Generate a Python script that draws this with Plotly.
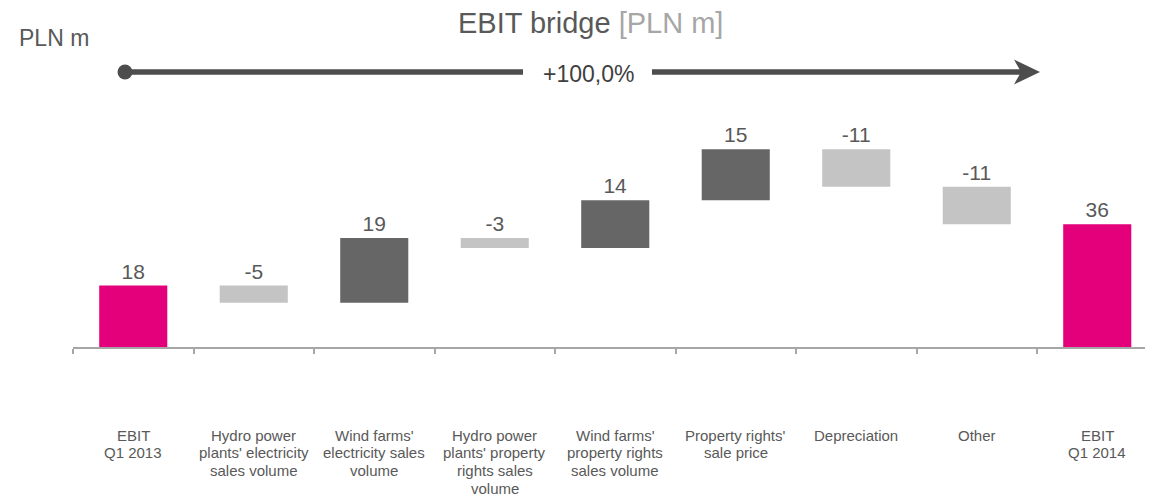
import plotly.graph_objects as go

# =========================
# DATA
# =========================
categories = [
    "EBIT<br>Q1 2013",
    "Hydro power<br>plants' electricity<br>sales volume",
    "Wind farms'<br>electricity sales<br>volume",
    "Hydro power<br>plants' property<br>rights sales<br>volume",
    "Wind farms'<br>property rights<br>sales volume",
    "Property rights'<br>sale price",
    "Depreciation",
    "Other",
    "EBIT<br>Q1 2014",
]
values = [18, -5, 19, -3, 14, 15, -11, -11, 36]
kinds = ["total", "delta", "delta", "delta", "delta", "delta", "delta", "delta", "total"]
change_label = "+100,0%"

# =========================
# WATERFALL GEOMETRY
# =========================
bases, heights, colors = [], [], []
running = 0
for v, k in zip(values, kinds):
    if k == "total":
        bases.append(0)
        heights.append(v)
        colors.append("#E3007A")
        running = v
    else:
        end = running + v
        bases.append(min(running, end))
        heights.append(abs(v))
        colors.append("#666666" if v > 0 else "#C4C4C4")
        running = end

W, H = 1153, 500
OFF = 8            # page body margin
L = 73 - OFF
PW = W - L


def px(x):
    return (x - OFF - L) / PW


def py(y):
    return 1 - (y - OFF) / H


TXT = "#595959"
ARROW = "#4D4D4D"

fig = go.Figure(
    go.Bar(
        x=list(range(len(values))),
        y=heights,
        base=bases,
        width=0.565,
        marker=dict(color=colors, line=dict(width=0)),
        text=[str(v) for v in values],
        textposition="outside",
        textfont=dict(size=21, color=TXT),
        cliponaxis=False,
        hoverinfo="skip",
    )
)

# category labels, one annotation per line
for i, cat in enumerate(categories):
    for j, line in enumerate(cat.split("<br>")):
        fig.add_annotation(
            x=i, xref="x", y=py(435 + 17.7 * j), yref="paper",
            text=line, showarrow=False, yanchor="middle",
            font=dict(size=15, color=TXT),
        )

# title and unit
fig.add_annotation(
    x=px(590), y=py(23), xref="paper", yref="paper", yanchor="middle",
    text="EBIT bridge <span style='color:#A6A6A6'>[PLN m]</span>",
    showarrow=False, font=dict(size=29, color=TXT),
)
fig.add_annotation(
    x=px(17), y=py(38), xref="paper", yref="paper", xanchor="left", yanchor="middle",
    text="PLN m", showarrow=False, font=dict(size=23, color=TXT),
)

# growth arrow
fig.add_annotation(
    x=px(588), y=py(74), xref="paper", yref="paper", yanchor="middle",
    text=change_label, showarrow=False, font=dict(size=23, color="#404040"),
)
for x0, x1 in [(125, 523), (652, 1022)]:
    fig.add_shape(type="line", xref="paper", yref="paper",
                  x0=px(x0), x1=px(x1), y0=py(72), y1=py(72),
                  line=dict(color=ARROW, width=5.5))
fig.add_shape(type="circle", xref="paper", yref="paper",
              x0=px(117.5), x1=px(132.5), y0=py(64.5), y1=py(79.5),
              fillcolor=ARROW, line=dict(width=0))
head = [(1040, 72), (1014, 59.5), (1021, 72), (1014, 84.5)]
path = "M " + " L ".join(f"{px(a):.5f},{py(b):.5f}" for a, b in head) + " Z"
fig.add_shape(type="path", xref="paper", yref="paper", path=path,
              fillcolor=ARROW, line=dict(width=0))

fig.update_layout(
    width=W, height=H,
    margin=dict(l=L, r=0, t=0, b=0),
    plot_bgcolor="white", paper_bgcolor="white",
    showlegend=False,
    font=dict(family="Arial, Liberation Sans, sans-serif", color=TXT),
    xaxis=dict(
        range=[-0.5, -0.5 + PW / 120.5],
        tickvals=[i - 0.5 for i in range(len(values) + 1)],
        showticklabels=False,
        ticks="outside", ticklen=5, tickwidth=1.5, tickcolor="#A6A6A6",
        showline=True, linecolor="#A6A6A6", linewidth=1.5,
        showgrid=False, zeroline=False, fixedrange=True,
    ),
    yaxis=dict(
        domain=[1 - (347 - OFF) / H, 1],
        range=[0, (347 - OFF) / 3.41],
        visible=False, fixedrange=True,
    ),
)

fig.write_html("out.html")
